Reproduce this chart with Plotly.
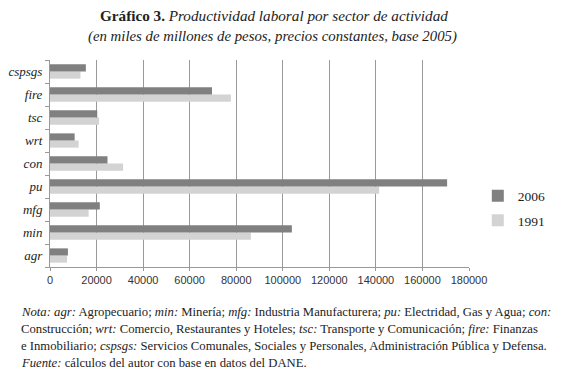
import plotly.graph_objects as go

categories = ["agr", "min", "mfg", "pu", "con", "wrt", "tsc", "fire", "cspsgs"]
values_2006 = [7700, 103900, 21400, 170600, 24700, 10600, 20300, 69600, 15400]
values_1991 = [7300, 86300, 16600, 141400, 31400, 12300, 21100, 77700, 13100]
x_ticks = [0, 20000, 40000, 60000, 80000, 100000, 120000, 140000, 160000, 180000]

FONT = "Liberation Serif"
W, H = 561, 373
ML, MR, MT, MB = 50, 92, 60, 106
PW, PH = W - ML - MR, H - MT - MB

fig = go.Figure()
fig.add_trace(go.Bar(y=categories, x=values_1991, name="1991", orientation="h",
                     legendgroup="b", legendrank=2,
                     marker=dict(color="#d3d3d3", line=dict(width=0))))
fig.add_trace(go.Bar(y=categories, x=values_2006, name="2006", orientation="h",
                     legendgroup="a", legendrank=1,
                     marker=dict(color="#808080", line=dict(width=0))))

fig.update_layout(
    width=W, height=H,
    margin=dict(l=ML, r=MR, t=MT, b=MB, autoexpand=False),
    paper_bgcolor="white", plot_bgcolor="white",
    barmode="group", bargap=0.38, bargroupgap=0,
    font=dict(family=FONT, size=12, color="#222"),
    showlegend=True,
    legend=dict(traceorder="grouped", x=1.021, y=0.283, xanchor="left", yanchor="middle",
                font=dict(size=13.5, family=FONT), itemwidth=30, tracegroupgap=4,
                bgcolor="rgba(0,0,0,0)"),
    xaxis=dict(range=[0, 180000], tickvals=x_ticks, tickformat="d", automargin=False,
               showgrid=True, gridcolor="#999999", gridwidth=1,
               zeroline=False, showline=True, linecolor="#999999", linewidth=1,
               ticks="outside", ticklen=3, tickcolor="#999999",
               tickfont=dict(size=11, family="Liberation Sans", color="#333")),
    yaxis=dict(categoryorder="array", categoryarray=categories, automargin=False,
               showline=True, linecolor="#999999", linewidth=1,
               ticks="outside", tickson="boundaries", ticklen=4, tickcolor="#999999",
               tickfont=dict(size=13, family=FONT, color="#222"),
               ticklabelstandoff=4),
)
fig.update_yaxes(tickvals=categories, ticktext=[f"<i>{c}</i>" for c in categories])

annots = [
    dict(x=274, y=16, text="<b>Gráfico 3.</b> <i>Productividad laboral por sector de actividad</i>", anchor="center", size=15.2),
    dict(x=272, y=37, text="<i>(en miles de millones de pesos, precios constantes, base 2005)</i>", anchor="center", size=14.8),
    dict(x=19, y=312, text="<i>Nota: agr:</i> Agropecuario; <i>min:</i> Minería; <i>mfg:</i> Industria Manufacturera; <i>pu:</i> Electridad, Gas y Agua; <i>con:</i>", anchor="left", size=12.7),
    dict(x=19, y=329, text="Construcción; <i>wrt:</i> Comercio, Restaurantes y Hoteles; <i>tsc:</i> Transporte y Comunicación; <i>fire:</i> Finanzas", anchor="left", size=12.7),
    dict(x=19, y=346, text="e Inmobiliario; <i>cspsgs:</i> Servicios Comunales, Sociales y Personales, Administración Pública y Defensa.", anchor="left", size=12.7),
    dict(x=19, y=363, text="<i>Fuente:</i> cálculos del autor con base en datos del DANE.", anchor="left", size=12.7),
]
for a in annots:
    fig.add_annotation(xref="paper", yref="paper",
                       x=(a["x"] - ML) / PW, y=(H - MB - a["y"]) / PH,
                       xanchor=a["anchor"], yanchor="middle",
                       showarrow=False, text=a["text"],
                       font=dict(family=FONT, size=a["size"], color="#222"))

fig.write_html("out.html", config={"displayModeBar": False},
               post_script="document.body.style.margin='0';document.body.style.overflow='hidden';")
